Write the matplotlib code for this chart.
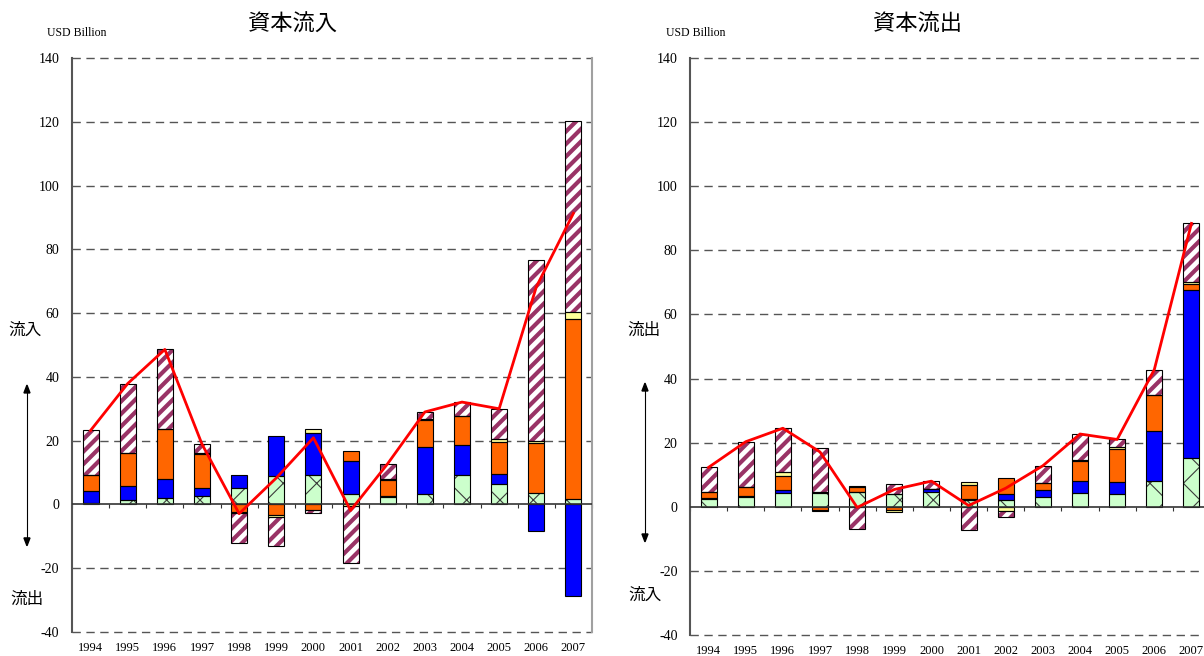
import numpy as np
import matplotlib.pyplot as plt
from matplotlib.collections import LineCollection
from matplotlib.transforms import IdentityTransform

plt.rcParams['font.family'] = ['Liberation Serif', 'Noto Sans CJK JP']
plt.rcParams['axes.unicode_minus'] = False

years = [str(y) for y in range(1994, 2008)]

# capital inflows (USD bn), stacked components
green_in = [0.5, 1.3, 2.1, 2.5, 5.1, 8.9, 9.1, 3.3, 2.3, 3.3, 9.2, 6.4, 3.5, 1.6]
blue_in = [3.7, 4.6, 5.9, 2.8, 4.0, 12.5, 13.2, 10.3, 0.5, 14.6, 9.4, 3.0, -8.4, -28.8]
orange_in = [5.1, 10.2, 15.8, 10.5, -2.5, -3.4, -1.6, 3.0, 4.8, 8.6, 9.0, 10.3, 15.9, 56.4]
yellow_in = [0.0, 0.0, 0.0, 0.2, -0.3, -0.5, 1.2, -0.6, 0.3, 0.2, 0.0, 0.7, 0.5, 2.3]
purple_in = [13.9, 21.8, 24.8, 2.9, -9.2, -9.2, -1.0, -17.9, 4.9, 2.3, 4.5, 9.6, 56.7, 59.8]

# capital outflows (USD bn)
green_out = [2.3, 3.2, 4.4, 4.4, 4.7, 3.9, 4.7, 2.2, 2.1, 3.1, 4.2, 4.0, 8.1, 15.2]
blue_out = [0.4, 0.3, 0.8, 0.2, 0.0, 0.0, 0.7, 0.3, 1.9, 2.2, 3.7, 3.6, 15.4, 52.4]
orange_out = [2.0, 2.6, 4.5, -0.9, 1.6, -0.9, 0.2, 4.2, 4.9, 2.0, 6.3, 10.5, 11.5, 1.8]
yellow_out = [0.0, 0.0, 1.1, -0.3, 0.3, -0.7, 0.0, 0.9, -1.2, 0.2, 0.3, 0.4, 0.0, 0.7]
purple_out = [7.6, 14.2, 13.7, 13.7, -6.8, 3.1, 2.4, -7.2, -1.9, 5.3, 8.2, 2.5, 7.8, 18.3]

# face colour, hatch, hatch colour ('stripe' = hand-drawn diagonal bands)
styles = [
    ('#CCFFCC', 'x', '#3a3a3a'),
    ('#0000FF', None, None),
    ('#FF6600', None, None),
    ('#FFFF99', None, None),
    ('white', 'stripe', '#993366'),
]

W = 0.43
STRIPE_GAP = 12.5   # px between stripes
STRIPE_LW = 3.0


def add_stripes(ax, bars, color):
    bb = ax.bbox
    h = bb.height + 40
    starts = np.arange(bb.x0 - h, bb.x1 + 20, STRIPE_GAP)
    segs = [[(c, bb.y0 - 20), (c + h, bb.y0 - 20 + h)] for c in starts]
    for b in bars:
        if b.get_height() == 0:
            continue
        lc = LineCollection(segs, colors=color, linewidths=STRIPE_LW,
                            transform=IdentityTransform(), zorder=2.2)
        ax.add_collection(lc, autolim=False)
        lc.set_clip_path(b)


def draw_panel(ax, comps):
    x = np.arange(len(years))
    ax.set_ylim(-40, 140)
    ax.set_xlim(-0.5, len(years) - 0.5)
    pos = np.zeros(len(years))
    neg = np.zeros(len(years))
    for vals, (face, hatch, hcol) in zip(comps, styles):
        v = np.array(vals)
        bottom = np.where(v >= 0, pos, neg)
        if hatch == 'x':
            with plt.rc_context({'hatch.linewidth': 0.8}):
                ax.bar(x, v, W, bottom=bottom, color=face, edgecolor=hcol,
                       hatch=hatch, linewidth=0, zorder=2)
        else:
            bars = ax.bar(x, v, W, bottom=bottom, color=face, linewidth=0,
                          zorder=2)
            if hatch == 'stripe':
                add_stripes(ax, bars, hcol)
        ax.bar(x, v, W, bottom=bottom, fill=False, edgecolor='black',
               linewidth=0.8, zorder=2.5)
        pos = pos + np.where(v >= 0, v, 0)
        neg = neg + np.where(v < 0, v, 0)

    net = np.sum(comps, axis=0)
    ax.plot(x, net, color='red', lw=2, zorder=4)

    ax.set_yticks(range(-40, 141, 20))
    ax.tick_params(axis='y', length=0, pad=9, labelsize=10)
    ax.set_xticks(x)
    ax.set_xticklabels(years, fontsize=9)
    ax.tick_params(axis='x', length=0, pad=7)
    for t in range(-40, 141, 20):
        if t != 0:
            ax.axhline(t, color='#555555', lw=1.0, ls=(0, (6, 4)), zorder=1,
                       clip_on=False)
    ax.axhline(0, color='#333333', lw=1.2, zorder=3)
    # small marks between categories on the zero line
    zax = ax.secondary_xaxis(40 / 180)
    zax.set_xticks(np.arange(len(years) + 1) - 0.5)
    zax.set_xticklabels([])
    zax.tick_params(length=3, width=0.8, color='#333333', direction='out')
    zax.spines['bottom'].set_visible(False)
    ax.spines['left'].set_color('#555555')
    ax.spines['left'].set_linewidth(1.5)
    ax.spines['right'].set_color('#a0a0a0')
    ax.spines['right'].set_linewidth(1.5)
    ax.spines['top'].set_visible(False)
    ax.spines['bottom'].set_visible(False)


fig = plt.figure(figsize=(12.04, 6.56), dpi=100)
ax1 = fig.add_axes([0.0598, 0.0366, 0.4319, 0.875])
ax2 = fig.add_axes([0.5731, 0.032, 0.4319, 0.8796])

draw_panel(ax1, [green_in, blue_in, orange_in, yellow_in, purple_in])
draw_panel(ax2, [green_out, blue_out, orange_out, yellow_out, purple_out])

cjk = ['Noto Sans CJK JP', 'DejaVu Sans']
fig.text(0.243, 0.963, '資本流入', ha='center', va='center', fontsize=16,
         family=cjk)
fig.text(0.762, 0.963, '資本流出', ha='center', va='center', fontsize=16,
         family=cjk)
fig.text(0.039, 0.949, 'USD Billion', fontsize=8.5, va='center')
fig.text(0.553, 0.949, 'USD Billion', fontsize=8.5, va='center')

fig.text(0.021, 0.497, '流入', ha='center', va='center', fontsize=12, family=cjk)
fig.text(0.022, 0.086, '流出', ha='center', va='center', fontsize=12, family=cjk)
fig.text(0.535, 0.497, '流出', ha='center', va='center', fontsize=12, family=cjk)
fig.text(0.536, 0.092, '流入', ha='center', va='center', fontsize=12, family=cjk)

for xa, ytop, ybot in [(0.0224, 0.413, 0.168), (0.5357, 0.416, 0.174)]:
    fig.add_artist(plt.Line2D([xa, xa], [ybot + 0.008, ytop - 0.008],
                              color='black', lw=0.8))
    for tip, base in [(ytop, ytop - 0.012), (ybot, ybot + 0.012)]:
        fig.patches.append(plt.Polygon([[xa, tip], [xa - 0.0025, base],
                                        [xa + 0.0025, base]],
                                       closed=True, color='black',
                                       transform=fig.transFigure, figure=fig))

fig.savefig('out.png', dpi=100)
